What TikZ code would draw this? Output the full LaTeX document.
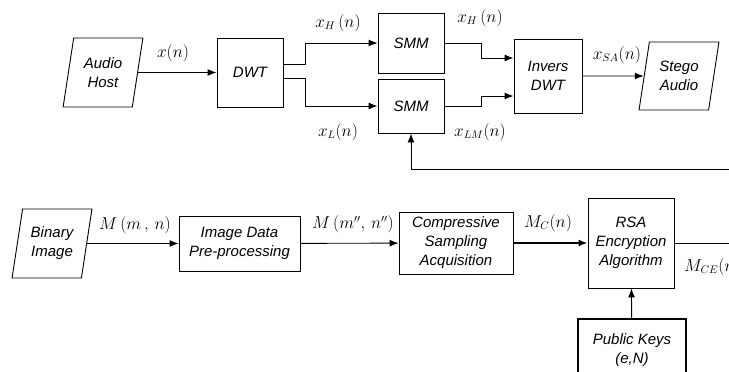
\documentclass[tikz,border=0pt]{standalone}
\usepackage{fontspec}
\setmainfont{Liberation Sans}
\usetikzlibrary{arrows.meta,shapes.geometric,positioning}

\tikzset{
    blk/.style={draw, line width=0.9pt, font=\itshape\fontsize{15}{19}\selectfont, align=center, inner sep=0pt},
    box/.style={blk, rectangle},
    io/.style={blk, trapezium, trapezium left angle=77, trapezium right angle=103, trapezium stretches, minimum width=80pt, minimum height=69pt},
    sig/.style={font=\fontsize{16}{18}\selectfont, inner sep=0pt},
    wire/.style={line width=0.9pt, -{Latex[length=9pt,width=7pt]}},
}

\begin{document}
\begin{tikzpicture}[x=1pt, y=-1pt]
        \clip (0,0) rectangle (729,372);
        % audio part
        \node [io] (host) at (103,72.5) {Audio\\Host};
        \node [box, minimum width=66pt, minimum height=69pt] (dwt) at (250,72.5) {DWT};
        \node [box, minimum width=66pt, minimum height=60pt] (smmH) at (411,43) {SMM};
        \node [box, minimum width=66pt, minimum height=54pt] (smmL) at (411,106) {SMM};
        \node [box, minimum width=68pt, minimum height=74pt] (idwt) at (548,76) {Invers\\DWT};
        \node [io, minimum height=68pt] (stego) at (679,76) {Stego\\Audio};
        \coordinate (fb) at (740,169);

        % image part
        \node [io] (bin) at (52,243.5) {Binary\\Image};
        \node [box, minimum width=121pt, minimum height=55pt] (prep) at (239.5,243.5) {Image Data\\Pre-processing};
        \node [box, minimum width=114pt, minimum height=62pt] (cs) at (456,243) {Compressive\\Sampling\\Acquisition};
        \node [box, minimum width=86pt, minimum height=90pt] (rsa) at (631,243) {RSA\\Encryption\\Algorithm};
        \node [box, line width=1.8pt, minimum width=108pt, minimum height=62pt] (keys) at (632,350) {Public Keys\\(e,N)};
        \coordinate (out) at (740,243);

        % signal labels
        \node [sig] (lx) at (173,53) {$x(n)$};
        \node [sig] (lxh) at (338,23) {$x_{H}\,(n)$};
        \node [sig] (lxl) at (338,132) {$x_{L}(n)$};
        \node [sig] (lxh2) at (480,18) {$x_{H}\,(n)$};
        \node [sig] (lxlm) at (480,132) {$x_{LM}(n)$};
        \node [sig] (lxsa) at (617,55) {$x_{SA}(n)$};
        \node [sig] (lm) at (135,225) {$M\,(m\,,\,n)$};
        \node [sig] (lm2) at (353,224) {$M\,(m'',\,n'')$};
        \node [sig] (lmc) at (548,223) {$M_{C}(n)$};
        \node [sig, anchor=west] (lmce) at (684,267) {$M_{CE}(n)$};

        \draw [wire] (host) -- (dwt);
        \draw [wire] ([yshift=8.5pt]dwt.east) -- ++(22,0) |- (smmH.west);
        \draw [wire] ([yshift=-5.5pt]dwt.east) -- ++(22,0) |- (smmL.west);
        \draw [wire] (smmH.east) -- ++(37,0) |- ([yshift=18pt]idwt.west);
        \draw [wire] (smmL.east) -- ++(37,0) |- ([yshift=-20pt]idwt.west);
        \draw [wire] (idwt) -- (stego);
        \draw [wire] (fb) -| (smmL.south);

        \draw [wire] (bin) -- (prep);
        \draw [wire] (prep) -- (cs);
        \draw [wire, line width=2.2pt] (cs) -- (rsa);
        \draw [line width=0.9pt] (rsa) -- (out);
        \draw [wire] (keys) -- (rsa);
    \end{tikzpicture}
\end{document}
